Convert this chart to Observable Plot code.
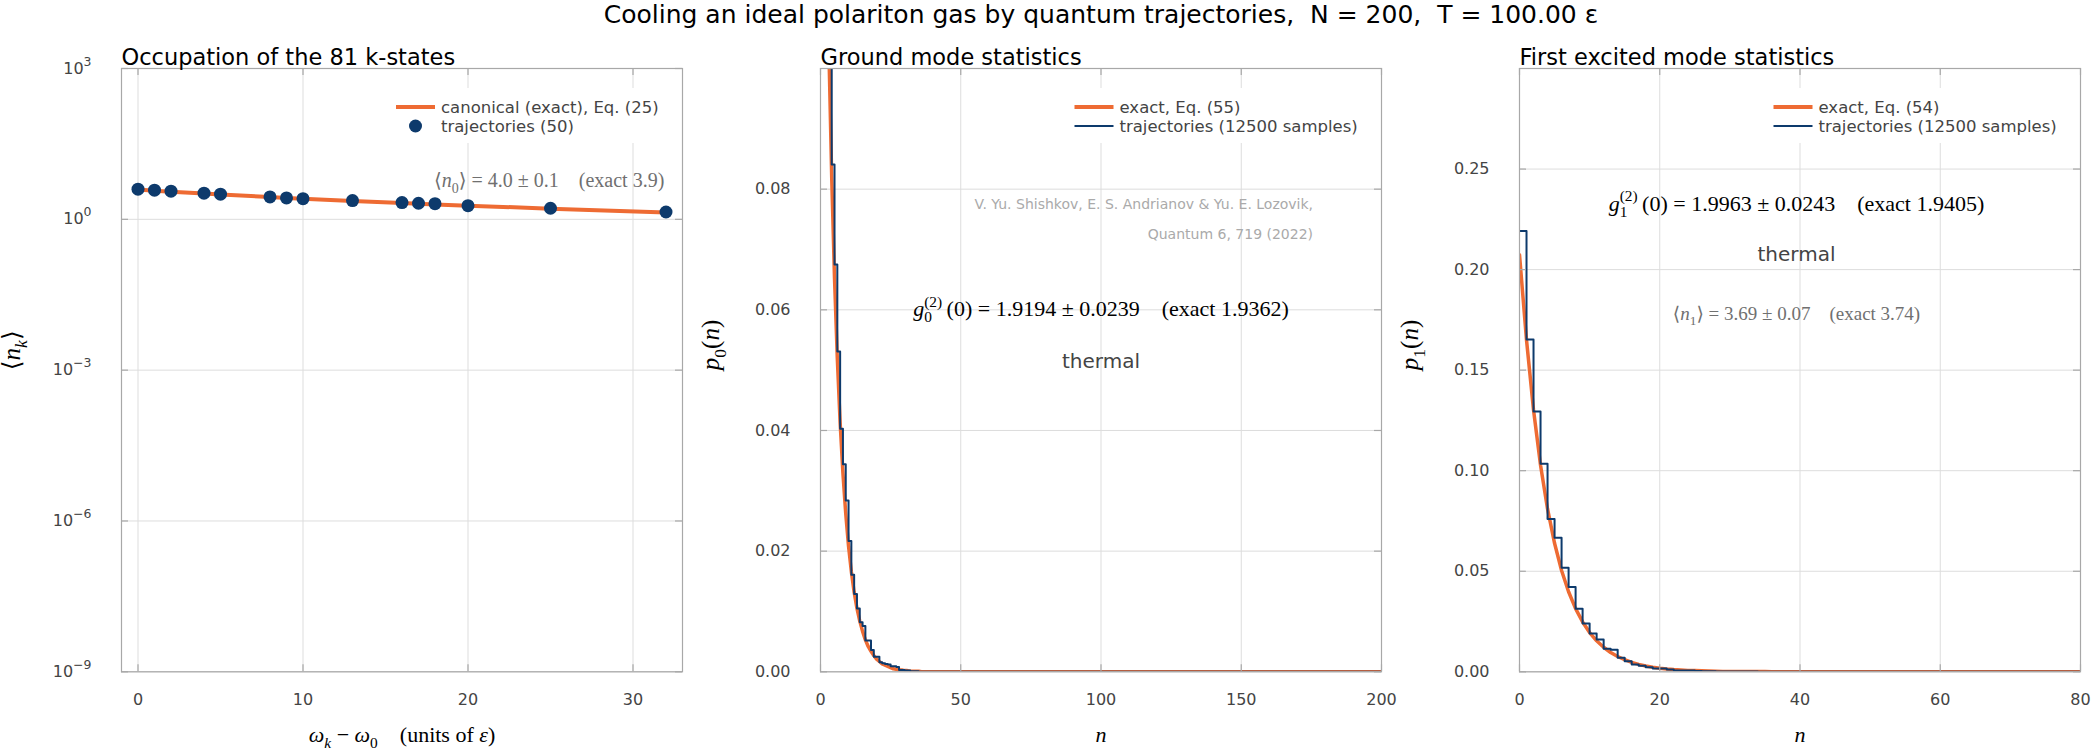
<!DOCTYPE html>
<html>
<head>
<meta charset="utf-8">
<script src="https://cdn.jsdelivr.net/npm/d3@7"></script>
<script src="https://cdn.jsdelivr.net/npm/@observablehq/plot@0.6"></script>
<style>
  body { margin: 0; background: #fff; font-family: "DejaVu Sans", sans-serif; }
  #title { height: 30px; line-height: 30px; font-size: 25px; text-align: center; white-space: pre;
           padding-left: 121px; padding-right: 17px; color: #000; width: 2098px; box-sizing: border-box; }
  #row { display: flex; width: 2098px; }
  #row svg { flex: none; }
</style>
</head>
<body>
<div id="title">Cooling an ideal polariton gas by quantum trajectories,  N = 200,  T = 100.00 ε</div>
<div id="row"></div>
<script>
// ---------------- data ----------------
// Panel 1: occupation of k-states (distinct energies)
const omegaK = [0, 1, 2, 4, 5, 8, 9, 10, 13, 16, 17, 18, 20, 25, 32];
const nTraj  = [3.98, 3.80, 3.63, 3.31, 3.16, 2.79, 2.67, 2.58, 2.36, 2.15, 2.09, 2.05, 1.87, 1.66, 1.40];
const nExact = [3.90, 3.72, 3.55, 3.25, 3.12, 2.77, 2.67, 2.58, 2.32, 2.11, 2.05, 1.98, 1.87, 1.63, 1.37];
const leftXTicks = [0, 10, 20, 30];
const leftYTicks = [1e-9, 1e-6, 1e-3, 1, 1e3];
const leftYTickLabels = ["10^−9", "10^−6", "10^−3", "10^0", "10^3"];

// Panel 2: ground mode p0(n), n = 0,1,2,...
const p0Traj = [0.200, 0.162, 0.131, 0.104, 0.0841, 0.0675, 0.0531, 0.0403, 0.0344, 0.0284,
                0.0217, 0.0161, 0.0129, 0.0105, 0.0082, 0.0076, 0.0052, 0.0052, 0.0036, 0.0025,
                0.0025, 0.0016, 0.0014, 0.0013, 0.0012, 0.0009, 0.0009, 0.0008, 0.0003, 0.0003,
                0.0002, 0.0002, 0.0001, 0.0001, 0.0001, 0.0000];
const p0Exact = [0.2041, 0.1624, 0.1293, 0.1029, 0.0819, 0.0652, 0.0519, 0.0413, 0.0329, 0.0262,
                 0.0208, 0.0166, 0.0132, 0.0105, 0.0084, 0.0067, 0.0053, 0.0042, 0.0034, 0.0027,
                 0.0021, 0.0017, 0.0013, 0.0011, 0.0009, 0.0007, 0.0005, 0.0004, 0.0003, 0.0003,
                 0.0002, 0.0002, 0.0001, 0.0001, 0.0001, 0.0001, 0.0000];
const p0NMax = 200;
const midXTicks = [0, 50, 100, 150, 200];
const midYTicks = [0, 0.02, 0.04, 0.06, 0.08];

// Panel 3: first excited mode p1(n)
const p1Traj = [0.2192, 0.1653, 0.1295, 0.1035, 0.0760, 0.0667, 0.0517, 0.0422, 0.0313, 0.0240,
                0.0190, 0.0160, 0.0115, 0.0110, 0.0070, 0.0053, 0.0036, 0.0030, 0.0023, 0.0017,
                0.0016, 0.0012, 0.0007, 0.0006, 0.0006, 0.0004, 0.0003, 0.0003, 0.0002, 0.0002,
                0.0001, 0.0001, 0.0001, 0.0001, 0.0000];
const p1Exact = [0.2074, 0.1650, 0.1302, 0.1027, 0.0810, 0.0639, 0.0504, 0.0398, 0.0314, 0.0248,
                 0.0195, 0.0154, 0.0122, 0.0096, 0.0076, 0.0060, 0.0047, 0.0037, 0.0029, 0.0023,
                 0.0018, 0.0014, 0.0011, 0.0009, 0.0007, 0.0006, 0.0005, 0.0004, 0.0003, 0.0002,
                 0.0002, 0.0001, 0.0001, 0.0001, 0.0001, 0.0001, 0.0000];
const p1NMax = 80;
const rightXTicks = [0, 20, 40, 60, 80];
const rightYTicks = [0, 0.05, 0.10, 0.15, 0.20, 0.25];

// ---------------- layout / style ----------------
const W = 699, H = 726;
const M = {top: 38, right: 17, bottom: 84.7, left: 121};
const FH = H - M.top - M.bottom;
const FW = W - M.left - M.right;
const ORANGE = "#ee6b33", BLUE = "#0d3a6c";
const GRID = "#dddddd", FRAME = "#a8a8a8", TXT = "#444";
const SERIF = "Liberation Serif, DejaVu Serif, serif";

const series = (vals, nMax) => vals.map((p, n) => ({n, p})).concat([{n: nMax, p: 0}]);

function base({title, xDomain, yType, yDomain, xTicks, yTicks, yFormat, marks, xLabel, yLabel}) {
  return Plot.plot({
    width: W, height: H,
    marginTop: M.top, marginRight: M.right, marginBottom: M.bottom, marginLeft: M.left,
    x: {domain: xDomain},
    y: {type: yType, domain: yDomain},
    style: {fontFamily: "DejaVu Sans", fontSize: "16px", color: TXT, background: "#fff", overflow: "visible"},
    marks: [
      Plot.ruleX(xTicks, {x: d => d, stroke: GRID, strokeWidth: 1}),
      Plot.ruleY(yTicks, {y: d => d, stroke: GRID, strokeWidth: 1}),
      ...marks,
      Plot.frame({stroke: FRAME, strokeWidth: 1.2}),
      Plot.tickX(xTicks, {x: d => d, insetTop: FH - 7, stroke: FRAME, strokeWidth: 1.2}),
      Plot.tickX(xTicks, {x: d => d, insetBottom: FH - 7, stroke: FRAME, strokeWidth: 1.2}),
      Plot.tickY(yTicks, {y: d => d, insetRight: FW - 7, stroke: FRAME, strokeWidth: 1.2}),
      Plot.tickY(yTicks, {y: d => d, insetLeft: FW - 7, stroke: FRAME, strokeWidth: 1.2}),
      Plot.axisX(xTicks, {tickSize: 0, tickPadding: 22, label: null, fontSize: 16, tickFormat: d => String(d)}),
      Plot.axisY(yTicks, {tickSize: 0, tickPadding: 30, label: null, fontSize: 16, tickFormat: yFormat}),
      Plot.text([title], {text: d => d, frameAnchor: "top-left", dy: -19, textAnchor: "start",
                          fontSize: 22.5, fill: "#000"}),
      Plot.text([xLabel], {text: d => d, frameAnchor: "bottom", dy: 70, lineAnchor: "bottom",
                           fontSize: 22, fill: "#000", fontFamily: SERIF}),
      Plot.text([yLabel], {text: d => d, frameAnchor: "left", dx: -110, rotate: -90,
                           fontSize: 25, fill: "#000", fontFamily: SERIF})
    ]
  });
}

// ---------------- math text rendering ----------------
const MATH = {
  "⟨n_k⟩": [{t: "⟨"}, {t: "n", i: 1}, {t: "k", i: 1, sub: 1}, {t: "⟩"}],
  "ω_k − ω_0 (units of ε)": [{t: "ω", i: 1}, {t: "k", i: 1, sub: 1}, {t: " − "}, {t: "ω", i: 1},
                             {t: "0", sub: 1}, {t: "    (units of "}, {t: "ε", i: 1}, {t: ")"}],
  "p_0(n)": [{t: "p", i: 1}, {t: "0", sub: 1}, {t: "("}, {t: "n", i: 1}, {t: ")"}],
  "p_1(n)": [{t: "p", i: 1}, {t: "1", sub: 1}, {t: "("}, {t: "n", i: 1}, {t: ")"}],
  "n": [{t: "n", i: 1}],
  "⟨n_0⟩ = 4.0 ± 0.1 (exact 3.9)": [{t: "⟨"}, {t: "n", i: 1}, {t: "0", sub: 1}, {t: "⟩ = 4.0 ± 0.1    (exact 3.9)"}],
  "⟨n_1⟩ = 3.69 ± 0.07 (exact 3.74)": [{t: "⟨"}, {t: "n", i: 1}, {t: "1", sub: 1}, {t: "⟩ = 3.69 ± 0.07    (exact 3.74)"}],
  "g0 = 1.9194 ± 0.0239 (exact 1.9362)": [{t: "g", i: 1}, {t: "0", sub: 1}, {t: "(2)", sup: 1, back: 1},
                                          {t: "\u2009(0) = 1.9194 ± 0.0239    (exact 1.9362)"}],
  "g1 = 1.9963 ± 0.0243 (exact 1.9405)": [{t: "g", i: 1}, {t: "1", sub: 1}, {t: "(2)", sup: 1, back: 1},
                                          {t: "\u2009(0) = 1.9963 ± 0.0243    (exact 1.9405)"}]
};
// tick labels of the log axis: "10^e" -> 10 with superscript exponent
for (const lab of leftYTickLabels) {
  const [b, e] = lab.split("^");
  MATH[lab] = [{t: b}, {t: e, sup: 1, big: 1}];
}

function mathify(svg) {
  d3.select(svg).selectAll("text").each(function() {
    const key = this.textContent;
    const parts = MATH[key];
    if (!parts) return;
    let fs = parseFloat(this.getAttribute("font-size"));
    if (!fs) fs = parseFloat(d3.select(this.parentNode).attr("font-size")) || 16;
    const t = d3.select(this);
    t.text(null).style("white-space", "pre");
    let level = 0;
    for (const p of parts) {
      const ts = t.append("tspan").text(p.t);
      if (p.i) ts.attr("font-style", "italic");
      let target = 0;
      if (p.sub) target = 0.28 * fs;
      if (p.sup) target = p.big ? -0.5 * fs : -0.42 * fs;
      ts.attr("font-size", (p.sub || p.sup) ? (p.big ? 0.78 : 0.7) * fs : fs);
      if (target - level) ts.attr("dy", target - level);
      if (p.back) ts.attr("dx", -0.35 * fs);
      level = target;
    }
  });
}

function legend(svg, textX, items) {
  const g = d3.select(svg).append("g").attr("text-anchor", "start");
  const x1 = textX - 45, x2 = textX - 6;
  g.append("rect").attr("x", x1 - 10).attr("y", 58).attr("width", (M.left + FW - 8) - (x1 - 10))
    .attr("height", 55).attr("fill", "#fff");
  items.forEach((it, i) => {
    const y = 77 + 19 * i;
    if (it.kind === "line") {
      g.append("line").attr("x1", x1).attr("x2", x2).attr("y1", y).attr("y2", y)
        .attr("stroke", it.color).attr("stroke-width", it.w);
    } else {
      g.append("circle").attr("cx", (x1 + x2) / 2).attr("cy", y).attr("r", 6.5).attr("fill", it.color);
    }
    g.append("text").attr("x", textX).attr("y", y).attr("dy", "0.35em").attr("font-size", 16.5)
      .attr("text-anchor", "start").attr("fill", TXT).attr("font-family", "DejaVu Sans").text(it.label);
  });
}

// ---------------- panels ----------------
const row = document.getElementById("row");

// Panel 1
const occ = omegaK.map((x, i) => ({x, exact: nExact[i], traj: nTraj[i]}));
const p1 = base({
  title: "Occupation of the 81 k-states",
  xDomain: [-1, 33], yType: "log", yDomain: [1e-9, 1e3],
  xTicks: leftXTicks, yTicks: leftYTicks,
  yFormat: d => leftYTickLabels[leftYTicks.findIndex(v => Math.abs(Math.log10(v) - Math.log10(d)) < 1e-6)],
  xLabel: "ω_k − ω_0 (units of ε)", yLabel: "⟨n_k⟩",
  marks: [
    Plot.line(occ, {x: "x", y: "exact", stroke: ORANGE, strokeWidth: 4}),
    Plot.dot(occ, {x: "x", y: "traj", r: 6.5, fill: BLUE, stroke: "none"}),
    Plot.text([{x: 31.9, y: 5.9, t: "⟨n_0⟩ = 4.0 ± 0.1 (exact 3.9)"}],
              {x: "x", y: "y", text: "t", textAnchor: "end", fontSize: 20, fill: "#707070", fontFamily: SERIF})
  ]
});
legend(p1, 441, [
  {kind: "line", color: ORANGE, w: 4, label: "canonical (exact), Eq. (25)"},
  {kind: "dot", color: BLUE, label: "trajectories (50)"}
]);
mathify(p1);
row.appendChild(p1);

// Panel 2
const f2 = d3.format(".2f");
const p2 = base({
  title: "Ground mode statistics",
  xDomain: [0, 200], yType: "linear", yDomain: [0, 0.1],
  xTicks: midXTicks, yTicks: midYTicks, yFormat: f2,
  xLabel: "n", yLabel: "p_0(n)",
  marks: [
    Plot.line(series(p0Exact, p0NMax), {x: "n", y: "p", stroke: ORANGE, strokeWidth: 3.5, clip: true}),
    Plot.line(series(p0Traj, p0NMax), {x: "n", y: "p", curve: "step-after", stroke: BLUE, strokeWidth: 2, clip: true}),
    Plot.text([{x: 175.6, y: 0.0775, t: "V. Yu. Shishkov, E. S. Andrianov & Yu. E. Lozovik,"},
               {x: 175.6, y: 0.0725, t: "Quantum 6, 719 (2022)"}],
              {x: "x", y: "y", text: "t", textAnchor: "end", fontSize: 14, fill: "#aaaaaa"}),
    Plot.text([{x: 100, y: 0.0601, t: "g0 = 1.9194 ± 0.0239 (exact 1.9362)"}],
              {x: "x", y: "y", text: "t", fontSize: 22, fill: "#000", fontFamily: SERIF}),
    Plot.text([{x: 100, y: 0.0515, t: "thermal"}],
              {x: "x", y: "y", text: "t", fontSize: 20, fill: TXT})
  ]
});
legend(p2, 420.5, [
  {kind: "line", color: ORANGE, w: 4, label: "exact, Eq. (55)"},
  {kind: "line", color: BLUE, w: 2, label: "trajectories (12500 samples)"}
]);
mathify(p2);
row.appendChild(p2);

// Panel 3
const p3 = base({
  title: "First excited mode statistics",
  xDomain: [0, 80], yType: "linear", yDomain: [0, 0.3],
  xTicks: rightXTicks, yTicks: rightYTicks, yFormat: f2,
  xLabel: "n", yLabel: "p_1(n)",
  marks: [
    Plot.line(series(p1Exact, p1NMax), {x: "n", y: "p", stroke: ORANGE, strokeWidth: 3.5, clip: true}),
    Plot.line(series(p1Traj, p1NMax), {x: "n", y: "p", curve: "step-after", stroke: BLUE, strokeWidth: 2, clip: true}),
    Plot.text([{x: 39.5, y: 0.2328, t: "g1 = 1.9963 ± 0.0243 (exact 1.9405)"}],
              {x: "x", y: "y", text: "t", fontSize: 22, fill: "#000", fontFamily: SERIF}),
    Plot.text([{x: 39.5, y: 0.2074, t: "thermal"}],
              {x: "x", y: "y", text: "t", fontSize: 20, fill: TXT}),
    Plot.text([{x: 39.5, y: 0.178, t: "⟨n_1⟩ = 3.69 ± 0.07 (exact 3.74)"}],
              {x: "x", y: "y", text: "t", fontSize: 19, fill: "#707070", fontFamily: SERIF})
  ]
});
legend(p3, 420.5, [
  {kind: "line", color: ORANGE, w: 4, label: "exact, Eq. (54)"},
  {kind: "line", color: BLUE, w: 2, label: "trajectories (12500 samples)"}
]);
mathify(p3);
row.appendChild(p3);
</script>
</body>
</html>
